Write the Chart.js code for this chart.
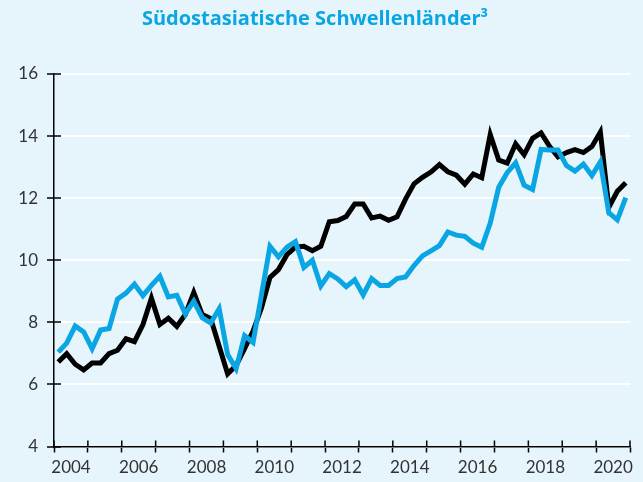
<!DOCTYPE html>
<html lang="de">
<head>
<meta charset="utf-8">
<title>Südostasiatische Schwellenländer</title>
<script src="https://cdn.jsdelivr.net/npm/chart.js@4.4.1/dist/chart.umd.min.js"></script>
<style>
  html, body { margin: 0; padding: 0; background: #e6f4fb; }
  #wrap { width: 643px; height: 482px; }
</style>
</head>
<body>
<div id="wrap"><canvas id="chart" width="643" height="482"></canvas></div>
<script>
// quarterly values, 2004 Q1 .. 2020 Q4
const years = [2004, 2005, 2006, 2007, 2008, 2009, 2010, 2011, 2012, 2013, 2014, 2015, 2016, 2017, 2018, 2019, 2020];
const yTicks = [4, 6, 8, 10, 12, 14, 16];

const blackSeries = [
  6.72, 6.99, 6.65, 6.47, 6.69, 6.69, 6.99, 7.10, 7.47, 7.38,
  7.93, 8.78, 7.93, 8.13, 7.87, 8.25, 8.96, 8.25, 8.12, 7.23,
  6.34, 6.61, 7.15, 7.72, 8.47, 9.45, 9.70, 10.18, 10.42, 10.45,
  10.31, 10.45, 11.24, 11.28, 11.41, 11.81, 11.81, 11.36, 11.42, 11.29,
  11.40, 11.97, 12.46, 12.67, 12.84, 13.08, 12.85, 12.74, 12.45, 12.78,
  12.66, 14.05, 13.23, 13.13, 13.75, 13.40, 13.93, 14.10, 13.67, 13.33,
  13.47, 13.56, 13.47, 13.66, 14.13, 11.70, 12.22, 12.50,
];

const blueSeries = [
  7.04, 7.33, 7.88, 7.69, 7.15, 7.75, 7.80, 8.75, 8.94, 9.23,
  8.86, 9.19, 9.48, 8.82, 8.87, 8.27, 8.68, 8.15, 7.98, 8.44,
  6.96, 6.51, 7.57, 7.35, 8.90, 10.45, 10.11, 10.42, 10.60, 9.77,
  10.00, 9.17, 9.57, 9.40, 9.15, 9.37, 8.88, 9.41, 9.19, 9.19,
  9.41, 9.46, 9.83, 10.14, 10.30, 10.47, 10.91, 10.81, 10.77, 10.55,
  10.42, 11.20, 12.35, 12.82, 13.14, 12.42, 12.28, 13.57, 13.55, 13.55,
  13.05, 12.87, 13.10, 12.73, 13.17, 11.53, 11.30, 12.02,
];

// quarter positions (middle of each quarter)
const quarters = [];
years.forEach(function (y) {
  for (let q = 0; q < 4; q++) quarters.push(y + q / 4 + 0.125);
});

const toPoints = (vals) => vals.map((v, i) => ({ x: quarters[i], y: v }));

const cyan = "#0aa6e4";
const font = "Lato, 'Open Sans', sans-serif";

// short tick marks on the inner side of both axes
const innerTicks = {
  id: "innerTicks",
  beforeDatasetsDraw(chart) {
    const c = chart.ctx;
    const area = chart.chartArea;
    const sx = chart.scales.x;
    const sy = chart.scales.y;
    c.save();
    c.strokeStyle = "#000";
    c.lineWidth = 1.5;
    sy.ticks.forEach(function (t) {
      const py = Math.round(sy.getPixelForValue(t.value));
      c.beginPath();
      c.moveTo(area.left, py);
      c.lineTo(area.left + 7, py);
      c.stroke();
    });
    sx.ticks.forEach(function (t) {
      const px = sx.getPixelForValue(t.value);
      c.beginPath();
      c.moveTo(px, area.bottom);
      c.lineTo(px, area.bottom - 6);
      c.stroke();
    });
    c.restore();
  },
};

const ctx = document.getElementById("chart").getContext("2d");

new Chart(ctx, {
  type: "line",
  data: {
    datasets: [
      {
        label: "blau",
        data: toPoints(blueSeries),
        borderColor: cyan,
        borderWidth: 5,
        pointRadius: 0,
        tension: 0,
      },
      {
        label: "schwarz",
        data: toPoints(blackSeries),
        borderColor: "#000",
        borderWidth: 5,
        pointRadius: 0,
        tension: 0,
      },
    ],
  },
  options: {
    responsive: false,
    animation: false,
    layout: {
      padding: { left: 0, right: 13, top: 0, bottom: 0 },
    },
    plugins: {
      legend: { display: false },
      tooltip: { enabled: false },
      title: {
        display: true,
        text: "Südostasiatische Schwellenländer³",
        color: cyan,
        font: { family: "'Open Sans', sans-serif", size: 20, weight: "bold" },
        padding: { top: 7, bottom: 43 },
      },
    },
    scales: {
      x: {
        type: "linear",
        min: 2004,
        max: 2021,
        afterFit: (scale) => { scale.height = 35.5; },
        afterBuildTicks: (scale) => {
          scale.ticks = years.concat([2021]).map((v) => ({ value: v }));
        },
        ticks: {
          autoSkip: false,
          maxRotation: 0,
          labelOffset: 17,
          padding: 5,
          color: "#333",
          font: { family: font, size: 17 },
          callback: (value) => (value % 2 === 0 && value <= 2020 ? String(value) : ""),
        },
        grid: {
          drawOnChartArea: false,
          tickColor: "#000",
          tickLength: 6,
          tickWidth: 1.5,
        },
        border: { display: true, color: "#000", width: 1.5 },
      },
      y: {
        min: 4,
        max: 16,
        afterFit: (scale) => { scale.width = 54; },
        afterBuildTicks: (scale) => {
          scale.ticks = yTicks.map((v) => ({ value: v }));
        },
        ticks: {
          padding: 9,
          color: "#333",
          font: { family: font, size: 17 },
        },
        grid: {
          color: "#ffffff",
          lineWidth: 2,
          tickColor: "#000",
          tickLength: 7,
          tickWidth: 1.5,
        },
        border: { display: true, color: "#000", width: 1.5 },
      },
    },
  },
  plugins: [innerTicks],
});
</script>
</body>
</html>
